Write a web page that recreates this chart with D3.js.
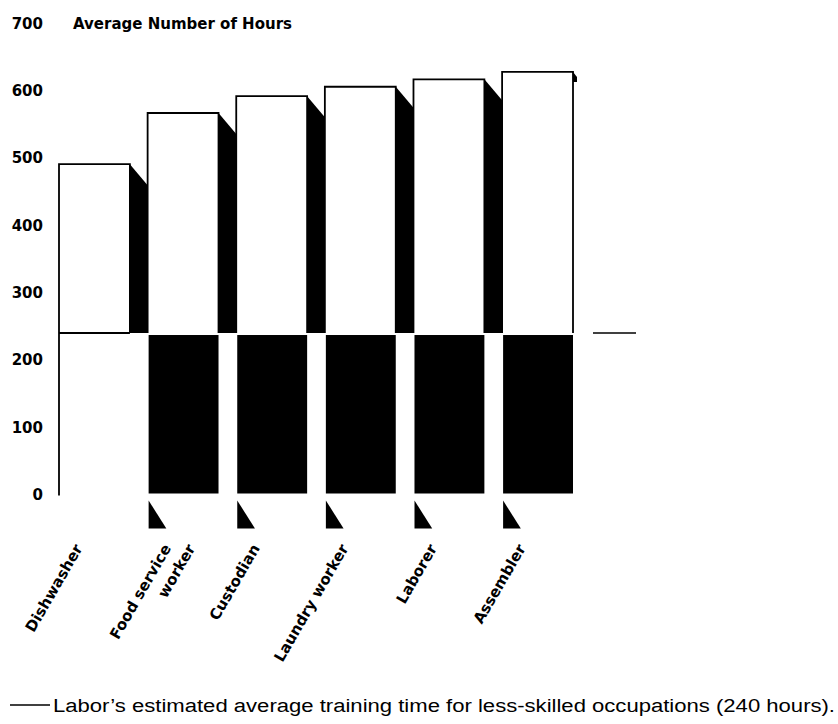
<!DOCTYPE html>
<meta charset="utf-8">
<style>
    body {
        margin: 0;
        background: #fff;
    }
</style>
<body>
<div id="chart"></div>
<script src="https://d3js.org/d3.v7.min.js"></script>
<script>
  // data
  var occupations = ["Dishwasher", "Food service worker", "Custodian", "Laundry worker", "Laborer", "Assembler"];
  var labelLines = [["Dishwasher"], ["Food service", "worker"], ["Custodian"], ["Laundry worker"], ["Laborer"], ["Assembler"]];
  var hours = [491, 567, 592, 606, 617, 628];
  var benchmark = 240;
  var yTicks = [0, 100, 200, 300, 400, 500, 600, 700];
  var legendText = "Labor\u2019s estimated average training time for less-skilled occupations (240 hours).";

  var width = 838, height = 724;

  var svg = d3.select("#chart")
    .append("svg")
    .attr("width", width)
    .attr("height", height);

  var x = d3.scaleBand()
    .domain(occupations)
    .range([59, 573])
    .paddingInner(0.2)
    .paddingOuter(0);

  var y = d3.scaleLinear()
    .domain([0, 700])
    .range([494.5, 23.5]);

  var depth = x.step() - x.bandwidth(); // width of the black side face
  var drop = 21;                         // slant of the side face top
  var last = occupations.length - 1;

  // y tick labels, no axis line
  var yAxis = svg.append("g")
    .attr("transform", "translate(43,0)")
    .call(d3.axisLeft(y).tickValues(yTicks).tickSize(0).tickPadding(0).tickFormat(d3.format("d")));
  yAxis.select(".domain").remove();
  yAxis.selectAll("text")
    .attr("font-family", "DejaVu Sans")
    .attr("font-weight", "bold")
    .attr("font-size", 15)
    .attr("fill", "#000");

  svg.append("text")
    .attr("x", 73)
    .attr("y", y(700))
    .attr("dy", "0.35em")
    .attr("font-family", "DejaVu Sans")
    .attr("font-weight", "bold")
    .attr("font-size", 15)
    .text("Average Number of Hours");

  var bars = svg.selectAll("g.bar")
    .data(occupations)
    .join("g")
    .attr("class", "bar");

  // black side faces above the benchmark
  bars.filter(function (d, i) { return i < last; })
    .append("path")
    .attr("fill", "#000")
    .attr("d", function (d, i) {
      var x1 = x(d) + x.bandwidth(), top = y(hours[i]);
      return "M" + x1 + "," + top + "L" + (x1 + depth) + "," + (top + drop) +
        "V" + y(benchmark) + "H" + x1 + "Z";
    });

  // only a small notch survives on the last bar
  bars.filter(function (d, i) { return i === last; })
    .append("path")
    .attr("fill", "#000")
    .attr("d", function (d, i) {
      var x1 = x(d) + x.bandwidth(), top = y(hours[last]);
      return "M" + x1 + "," + top + "L" + (x1 + 4) + "," + (top + 5) +
        "V" + (top + 10) + "H" + x1 + "Z";
    });

  // white front faces above the benchmark
  bars.append("path")
    .attr("fill", "#fff")
    .attr("stroke", "#000")
    .attr("stroke-width", 1.8)
    .attr("d", function (d, i) {
      var x0 = x(d), x1 = x0 + x.bandwidth();
      return "M" + x0 + "," + y(benchmark) + "V" + y(hours[i]) + "H" + x1 + "V" + y(benchmark);
    });

  // black front faces below the benchmark
  bars.filter(function (d, i) { return i > 0; })
    .append("rect")
    .attr("x", function (d) { return x(d) + 1; })
    .attr("y", y(benchmark) + 2)
    .attr("width", x.bandwidth() - 1)
    .attr("height", y(0) - y(benchmark) - 3)
    .attr("fill", "#000");

  // small wedges under the bars
  bars.filter(function (d, i) { return i > 0; })
    .append("path")
    .attr("fill", "#000")
    .attr("d", function (d) {
      var x0 = x(d) + 1, b = y(0);
      return "M" + x0 + "," + (b + 6) + "V" + (b + 34) + "H" + (x0 + depth) + "Z";
    });

  // first bar keeps only its left edge below the benchmark
  var first = occupations[0];
  svg.append("line")
    .attr("x1", x(first)).attr("x2", x(first))
    .attr("y1", y(benchmark)).attr("y2", y(0) + 1)
    .attr("stroke", "#000").attr("stroke-width", 1.8);

  // benchmark line pieces
  svg.append("line")
    .attr("x1", x(first)).attr("x2", x(first) + x.bandwidth())
    .attr("y1", y(benchmark)).attr("y2", y(benchmark))
    .attr("stroke", "#000").attr("stroke-width", 1.8);

  var endX = x(occupations[last]) + x.bandwidth();
  svg.append("line")
    .attr("x1", endX + 20).attr("x2", endX + 63)
    .attr("y1", y(benchmark)).attr("y2", y(benchmark))
    .attr("stroke", "#000").attr("stroke-width", 1.5);

  // rotated category labels
  var labels = svg.selectAll("g.lab")
    .data(occupations)
    .join("g")
    .attr("class", "lab")
    .attr("transform", function (d) { return "translate(" + (x(d) + 24) + ",548) rotate(-60)"; });

  labels.append("text")
    .attr("text-anchor", "end")
    .attr("font-family", "DejaVu Sans")
    .attr("font-weight", "bold")
    .attr("font-size", 15)
    .each(function (d, i) {
      var t = d3.select(this);
      labelLines[i].forEach(function (line, j) {
        t.append("tspan")
          .attr("x", j === 0 ? 0 : 12)
          .attr("dy", j === 0 ? 0 : "1.39em")
          .text(line);
      });
    });

  // legend
  svg.append("line")
    .attr("x1", 10).attr("x2", 50)
    .attr("y1", 705).attr("y2", 705)
    .attr("stroke", "#000").attr("stroke-width", 1.5);

  svg.append("text")
    .attr("x", 53)
    .attr("y", 706)
    .attr("dy", "0.35em")
    .attr("font-family", "Liberation Sans")
    .attr("font-size", 18)
    .attr("textLength", 782)
    .attr("lengthAdjust", "spacingAndGlyphs")
    .text(legendText);
</script>
</body>
